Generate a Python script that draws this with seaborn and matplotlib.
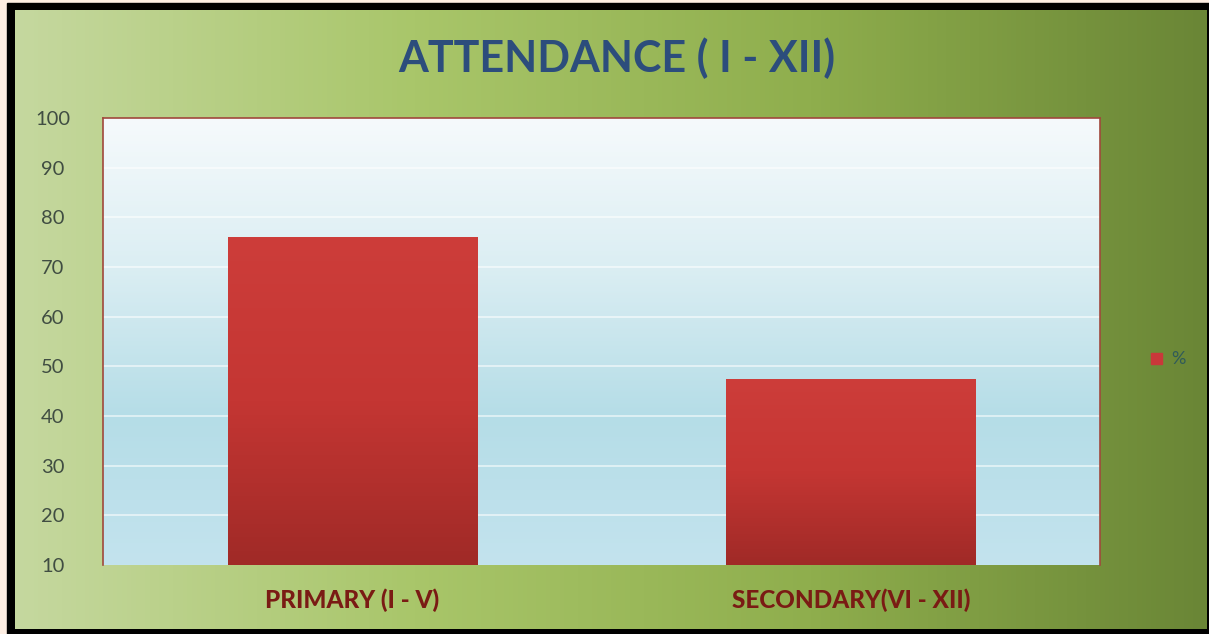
import numpy as np
import pandas as pd
import seaborn as sns
import matplotlib.pyplot as plt
from matplotlib.colors import LinearSegmentedColormap
from matplotlib.patches import Rectangle

# == data == #
categories = ['PRIMARY (I - V)', 'SECONDARY(VI - XII)']
attendance = [76, 47.5]
series_name = '%'
yticks = [10, 20, 30, 40, 50, 60, 70, 80, 90, 100]

df = pd.DataFrame({'level': categories, 'pct': attendance})

sns.set_style('white')
plt.rcParams['font.family'] = ['Lato', 'DejaVu Sans']

W, H = 1209, 634
fig = plt.figure(figsize=(W / 100, H / 100), dpi=100)
fig.patch.set_facecolor('#fdeee3')

# figure background: horizontal green gradient inside a black frame
bg = fig.add_axes([0, 0, 1, 1], zorder=-10)
bg.set_xlim(0, W)
bg.set_ylim(H, 0)
bg.axis('off')
bg.add_patch(Rectangle((7, 3), W - 7, H - 3, color='black'))
green = LinearSegmentedColormap.from_list('g', ['#c5d89f', '#a9c66a', '#8fae4d', '#6a8636'])
bg.imshow(np.linspace(0, 1, 256)[None, :], cmap=green, aspect='auto',
          extent=(15, W - 2, H - 5, 10), zorder=1)

# plot area
ax = fig.add_axes([103 / W, 1 - 565 / H, (1100 - 103) / W, (565 - 118) / H])
sns.barplot(data=df, x='level', y='pct', color='#c0392b', width=0.5, ax=ax, zorder=3)
ax.set_ylim(10, 100)
ax.set_xlim(-0.5, 1.5)

blue = LinearSegmentedColormap.from_list('b', ['#f6fafc', '#dbeef3', '#b5dde7', '#c3e3ee'])
ax.imshow(np.linspace(0, 1, 256)[:, None], cmap=blue, aspect='auto',
          extent=(-0.5, 1.5, 10, 100), origin='upper', zorder=0)
for y in yticks[1:-1]:
    ax.axhline(y, color='white', lw=1.1, alpha=0.7, zorder=1)

# red gradient on each bar
red = LinearSegmentedColormap.from_list('r', ['#cd3d3a', '#c43633', '#a02a27'])
for bar in ax.patches:
    x0, w = bar.get_x(), bar.get_width()
    top = bar.get_height()
    im = ax.imshow(np.linspace(0, 1, 256)[:, None], cmap=red, aspect='auto',
                   extent=(x0, x0 + w, 10, top), origin='upper', zorder=4)
    im.set_clip_path(bar)
    bar.set_edgecolor('none')

for s in ax.spines.values():
    s.set_color('#a0483c')
    s.set_linewidth(1.2)
ax.spines['bottom'].set_visible(False)

ax.set_yticks(yticks)
ax.tick_params(axis='y', length=0, pad=36, labelsize=14.5, labelcolor='#404d42')
for lbl in ax.get_yticklabels():
    lbl.set_horizontalalignment('center')
ax.tick_params(axis='x', length=0, pad=17, labelsize=17.5, labelcolor='#7a1b14')
for lbl in ax.get_xticklabels():
    lbl.set_fontweight('black')
ax.set_xlabel('')
ax.set_ylabel('')

fig.text(617 / W, 1 - 58 / H, 'ATTENDANCE ( I - XII)', ha='center', va='center',
         fontsize=31, fontweight='bold', color='#2c4d7c')

# legend
bg.add_patch(Rectangle((1151, 353), 11, 11, color='#c9383a', zorder=3))
bg.text(1171, 359, series_name, va='center', ha='left', fontsize=13,
        color='#2f5a5a', zorder=3)

fig.savefig('out.png', dpi=100)
